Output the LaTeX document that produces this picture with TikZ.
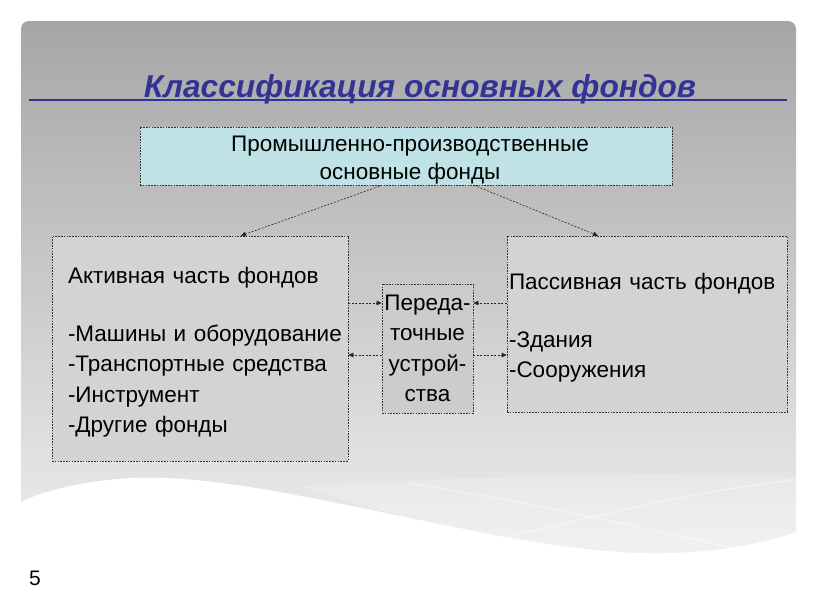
\documentclass[tikz,border=0pt]{standalone}
\usepackage{fontspec}
\setmainfont{Liberation Sans}
\usetikzlibrary{positioning,calc,arrows.meta}

\definecolor{slidetop}{RGB}{166,166,166}
\definecolor{slidebot}{RGB}{238,238,238}
\definecolor{titleblue}{RGB}{51,51,150}
\definecolor{topfill}{RGB}{190,226,229}
\definecolor{boxfill}{RGB}{211,211,211}
\definecolor{midfill}{RGB}{204,204,204}
\newcommand{\fstrut}{\rule{0pt}{24pt}}

\begin{document}
\begin{tikzpicture}[x=1pt, y=-1pt,
    fondbox/.style={draw=black!80, dash pattern=on 1.6pt off 1.2pt,
      line width=0.6pt, fill=boxfill, inner sep=0pt},
    fondarrow/.style={-{Triangle[length=5pt,width=4.5pt]}, draw=black!85,
      dash pattern=on 2pt off 1.5pt, line width=0.6pt},
    txt/.style={font=\fontsize{22.5}{30.5}\selectfont}
  ]
    \useasboundingbox (0,0) rectangle (816,613);
    % slide background
    \shade[top color=slidetop, bottom color=slidebot]
      (21,502) [rounded corners=8pt] -- (21,21) -- (796,21) -- (796,60)
      [sharp corners] -- (796,532)
      .. controls (760,545) and (700,555) .. (640,553)
      .. controls (560,550) and (480,532) .. (410,518)
      .. controls (300,495) and (200,474) .. (130,478)
      .. controls (80,481) and (40,492) .. (21,502) -- cycle;
    \fill[white, opacity=0.22] (300,486)
      .. controls (450,478) and (650,470) .. (796,478) -- (796,532)
      .. controls (760,545) and (700,555) .. (640,553)
      .. controls (560,550) and (480,532) .. (410,518)
      .. controls (370,508) and (330,495) .. (300,486) -- cycle;
    \draw[white, line width=0.8pt, opacity=0.6]
      (406,483) .. controls (550,505) and (650,530) .. (733,548);
    \draw[white, line width=0.8pt, opacity=0.6]
      (506,537) .. controls (600,515) and (700,490) .. (796,480);

    \node[font=\fontsize{31.7}{36}\selectfont\bfseries\itshape, text=titleblue,
      anchor=base] (title) at (420,97) {Классификация основных фондов};
    \draw[titleblue, line width=1.8pt] (29,100) -- (787,100);

    \node[fondbox, fill=topfill, minimum width=532pt, minimum height=58pt,
      align=center, font=\fontsize{22.5}{28}\selectfont] (prom) at (406,156)
      {\hspace*{8pt}\fstrut Промышленно-производственные\\\hspace*{8pt}основные фонды};
    \node[fondbox, txt, minimum width=296pt, minimum height=225pt,
      text width=264pt, inner xsep=16pt, align=left] (aktiv) at (200,348.5)
      {\fstrut Активная часть фондов\\[27.5pt]\mbox{-Машины и оборудование}\\-Транспортные средства\\-Инструмент\\-Другие фонды};
    \node[fondbox, txt, minimum width=280pt, minimum height=176pt,
      text width=276pt, inner xsep=2pt, align=left] (passiv) at (647,324)
      {\fstrut Пассивная часть фондов\\[27.5pt]-Здания\\-Сооружения};
    \node[fondbox, txt, fill=midfill, minimum width=91pt, minimum height=129pt,
      align=center] (pered) at (427.5,348.5) {Переда-\\точные\\устрой-\\ства};

    \node[anchor=base west, inner sep=0pt, font=\fontsize{21}{24}\selectfont]
      (num) at (29,585) {5};

    \coordinate (hi) at (0,303);
    \coordinate (lo) at (0,355);
    \draw[fondarrow] ([xshift=-24pt]prom.south) -- ([xshift=41pt]aktiv.north);
    \draw[fondarrow] ([xshift=68pt]prom.south) -- ([xshift=-49pt]passiv.north);
    \draw[fondarrow] (aktiv.east |- hi) -- (pered.west |- hi);
    \draw[fondarrow] (passiv.west |- hi) -- (pered.east |- hi);
    \draw[fondarrow] (pered.west |- lo) -- (aktiv.east |- lo);
    \draw[fondarrow] (pered.east |- lo) -- (passiv.west |- lo);
\end{tikzpicture}
\end{document}
